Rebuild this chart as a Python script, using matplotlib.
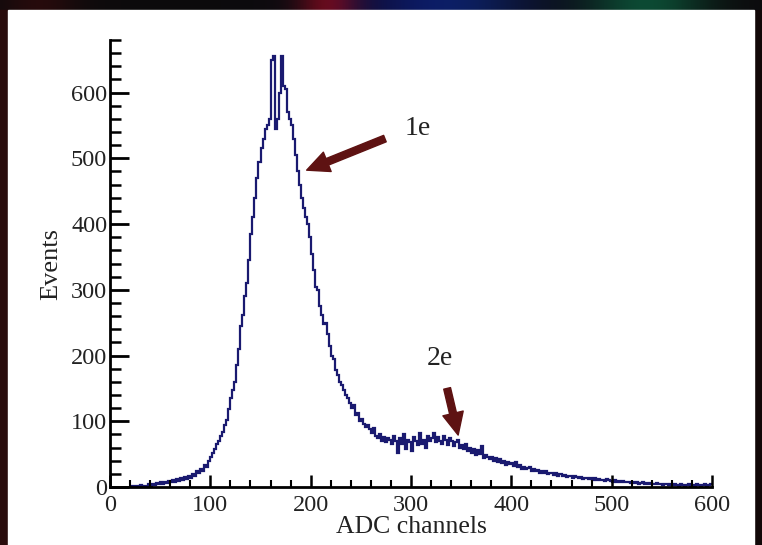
import numpy as np
import matplotlib
matplotlib.use("Agg")
import matplotlib.pyplot as plt
from matplotlib.ticker import MultipleLocator

# ---------------- data ----------------
bin_low = 20
bin_width = 2
counts = [
    1, 0, 2, 0, 1, 3, 0, 2, 1, 4,              # 20-38
    2, 5, 3, 6, 4, 7, 5, 8, 6, 9,              # 40-58
    7, 10, 8, 12, 9, 13, 11, 15, 12, 17,       # 60-78
    14, 20, 17, 24, 21, 28, 25, 33, 31, 40,    # 80-98
    45, 52, 58, 66, 70, 78, 84, 95, 102, 118,  # 100-118
    135, 148, 160, 185, 210, 245, 262, 290, 310, 345,  # 120-138
    385, 410, 440, 470, 495, 515, 530, 545, 550, 560,  # 140-158
    650, 655, 545, 560, 600, 655, 610, 605, 570, 560,  # 160-178
    550, 530, 505, 480, 460, 440, 425, 410, 400, 380,  # 180-198
    355, 330, 305, 300, 275, 262, 248, 250, 232, 215,  # 200-218
    200, 195, 178, 170, 160, 155, 148, 140, 135, 128,  # 220-238
    120, 125, 110, 112, 100, 104, 96, 92, 95, 88,      # 240-258
    82, 90, 78, 75, 80, 70, 76, 68, 74, 72,            # 260-278
    65, 78, 70, 52, 74, 66, 80, 58, 72, 68,            # 280-298
    55, 76, 70, 64, 82, 66, 72, 60, 78, 70,            # 300-318
    74, 82, 68, 76, 70, 66, 78, 72, 64, 74,            # 320-338
    70, 62, 68, 72, 60, 64, 58, 66, 55, 60,            # 340-358
    52, 58, 48, 56, 50, 62, 44, 48, 45, 42,            # 360-378
    46, 40, 44, 38, 42, 36, 40, 34, 38, 35,            # 380-398
    36, 32, 38, 30, 34, 28, 30, 27, 29, 30,            # 400-418
    25, 27, 24, 26, 22, 25, 21, 24, 20, 22,            # 420-438
    21, 18, 22, 17, 20, 16, 18, 15, 17, 16,            # 440-458
    14, 16, 15, 13, 15, 12, 14, 13, 12, 14,            # 460-478
    11, 13, 10, 12, 10, 11, 9, 12, 10, 9,              # 480-498
    8, 10, 8, 9, 7, 9, 8, 7, 8, 6,                     # 500-518
    7, 6, 7, 5, 6, 7, 5, 6, 5, 6,                      # 520-538
    5, 4, 6, 4, 5, 3, 5, 4, 3, 4,                      # 540-558
    3, 4, 3, 2, 4, 3, 2, 3, 4, 2,                      # 560-578
    3, 2, 4, 3, 2, 3, 4, 2, 3, 4,                      # 580-598
]
x_ticks = [0, 100, 200, 300, 400, 500, 600]
y_ticks = [0, 100, 200, 300, 400, 500, 600]
x_label = "ADC channels"
y_label = "Events"
ann_labels = ["1e", "2e"]
ann_text_xy = [(307, 546), (329, 196)]
ann_tail_xy = [(274, 530), (336, 150)]
ann_head_xy = [(196, 482), (347, 79)]

# ---------------- figure ----------------
W, H = 762, 545
fig = plt.figure(figsize=(W / 100, H / 100), dpi=100)
fig.patch.set_facecolor("#120808")

# decorative slide background strip (top) and white panel
bg = fig.add_axes([0, 0, 1, 1], zorder=-10)
bg.axis("off")
grad = np.zeros((1, 256, 3))
xs = np.linspace(0, 1, 256)
r = 0.05 + 0.35 * np.exp(-((xs - 0.43) / 0.04) ** 2) + 0.1 * np.exp(-((xs - 0.05) / 0.05) ** 2)
g = 0.04 + 0.25 * np.exp(-((xs - 0.85) / 0.08) ** 2) + 0.08 * np.exp(-((xs - 0.6) / 0.1) ** 2)
b = 0.05 + 0.35 * np.exp(-((xs - 0.58) / 0.12) ** 2) + 0.15 * np.exp(-((xs - 0.85) / 0.08) ** 2)
grad[0, :, 0] = np.clip(r, 0, 1)
grad[0, :, 1] = np.clip(g, 0, 1)
grad[0, :, 2] = np.clip(b, 0, 1)
bg.imshow(grad, extent=[0, 1, 1 - 10 / H, 1], aspect="auto", transform=bg.transAxes)
bg.set_xlim(0, 1)
bg.set_ylim(0, 1)
bg.add_patch(plt.Rectangle((0, 0), 8 / W, 1 - 10 / H, color="#2a0d0d", transform=bg.transAxes))
bg.add_patch(plt.Rectangle((8 / W, 0), (754 - 8) / W, 1 - 10 / H, color="white",
                           transform=bg.transAxes))

ax = fig.add_axes([110 / W, (H - 487) / H, 602 / W, 447 / H])
ax.set_facecolor("none")

edges = bin_low + bin_width * np.arange(len(counts) + 1)
ax.stairs(counts, edges, baseline=None, color="#1a1a70", lw=1.6)

ax.set_xlim(0, 600)
ax.set_ylim(0, 680)

for s in ["top", "right"]:
    ax.spines[s].set_visible(False)
for s in ["left", "bottom"]:
    ax.spines[s].set_linewidth(2.0)
    ax.spines[s].set_color("black")

ax.set_xticks(x_ticks)
ax.set_yticks(y_ticks)
ax.xaxis.set_minor_locator(MultipleLocator(20))
ax.yaxis.set_minor_locator(MultipleLocator(20))
ax.tick_params(axis="y", which="major", direction="in", length=14, width=2.0, pad=2)
ax.tick_params(axis="y", which="minor", direction="in", length=8, width=1.8)
ax.tick_params(axis="x", which="major", direction="in", length=9, width=1.8, pad=6)
ax.tick_params(axis="x", which="minor", direction="in", length=5, width=1.5)

serif = ["Liberation Serif", "DejaVu Serif"]
for lab in ax.get_xticklabels() + ax.get_yticklabels():
    lab.set_family(serif)
    lab.set_fontsize(17.5)
    lab.set_color("#222222")

ax.set_xlabel(x_label, family=serif, fontsize=18.5, color="#222222", labelpad=0)
ax.set_ylabel(y_label, family=serif, fontsize=19, color="#222222", labelpad=6)

arrow_col = "#5e1212"
for lab, txy, tail, head in zip(ann_labels, ann_text_xy, ann_tail_xy, ann_head_xy):
    ax.text(txy[0], txy[1], lab, family=serif, fontsize=20, color="#222222",
            ha="center", va="center")
    ax.annotate("", xy=head, xytext=tail,
                arrowprops=dict(arrowstyle="simple,head_length=0.8,head_width=0.75,tail_width=0.25",
                                color=arrow_col, mutation_scale=20, shrinkA=0, shrinkB=0))

fig.savefig("out.png", dpi=100, facecolor=fig.get_facecolor())
